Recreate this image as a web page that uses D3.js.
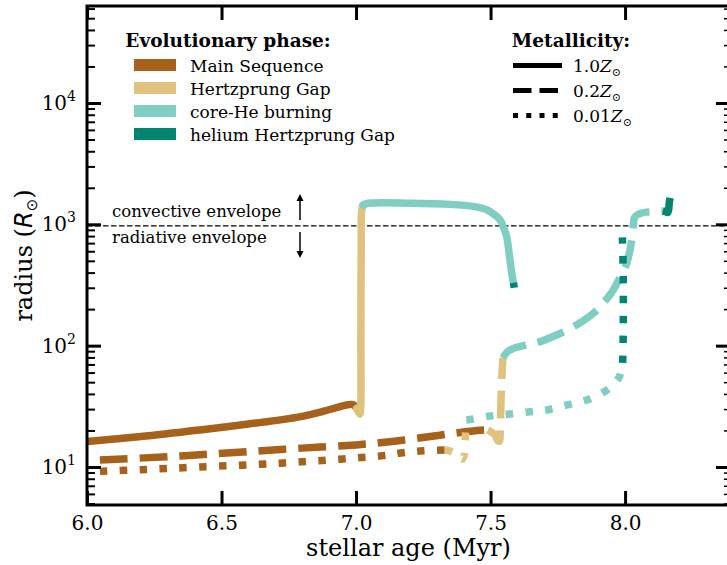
<!DOCTYPE html>
<html>
<head>
<meta charset="utf-8">
<script src="https://cdn.jsdelivr.net/npm/d3@7"></script>
<style>
body{margin:0;background:#fff;}
text{font-family:"DejaVu Serif";fill:#000;}
</style>
</head>
<body>
<svg id="chart" width="727" height="565"></svg>
<script>
// phase colours (BrBG)
var phaseNames = ['Main Sequence','Hertzprung Gap','core-He burning','helium Hertzprung Gap'];
var phaseColors = ['#a6611a','#dfc27d','#80cdc1','#018571'];
var metalLabels = ['1.0','0.2','0.01'];

// tracks: [age (Myr), radius (Rsun)]
// Z = 1.0 Zsun
var ms_10 = [[6.0,16.2],[6.2,17.8],[6.42,20.2],[6.6,22.6],[6.79,25.9],[6.88,28.8],[6.93,31.0],[6.97,32.6],[6.99,32.6],[7.003,30.5]];
var hg_10 = [[7.003,30.5],[7.009,28.2],[7.014,27.3],[7.017,30],[7.018,120],[7.019,600],[7.021,1300],[7.026,1440]];
var chb_10 = [[7.026,1440],[7.045,1490],[7.2,1495],[7.35,1460],[7.44,1400],[7.486,1320],[7.515,1200],[7.535,1090],[7.55,920],[7.56,790],[7.572,510],[7.58,380],[7.585,330]];
var hehg_10 = [[7.585,330],[7.588,300]];
// Z = 0.2 Zsun
var ms_02 = [[6.048,11.4],[6.25,12.0],[6.42,12.6],[6.6,13.4],[6.8,14.3],[7.0,15.2],[7.15,16.4],[7.29,18.0],[7.4,19.4],[7.45,20.0],[7.49,20.2]];
var hg_02 = [[7.49,20.2],[7.515,18.5],[7.527,16.5],[7.533,16.3],[7.536,20],[7.538,30],[7.541,50],[7.546,79]];
var chb_02 = [[7.546,79],[7.56,88],[7.585,95],[7.63,101],[7.684,108],[7.758,126],[7.808,143],[7.882,185],[7.93,240],[7.956,288],[7.985,380],[8.006,477],[8.025,743],[8.031,1000],[8.036,1150],[8.056,1230],[8.118,1280],[8.14,1290]];
var hehg_02 = [[8.14,1290],[8.152,1270],[8.158,1250],[8.162,1320],[8.164,1480],[8.167,1650]];
// Z = 0.01 Zsun
var ms_001 = [[6.048,9.2],[6.2,9.5],[6.42,10.0],[6.7,10.7],[6.94,11.6],[7.1,12.4],[7.175,13.1],[7.25,13.6],[7.33,13.8]];
var hg_001 = [[7.33,13.8],[7.36,13.3],[7.385,12.2],[7.395,11.6],[7.402,12.5],[7.405,16],[7.408,21],[7.41,24.4]];
var chb_001 = [[7.41,24.4],[7.424,24.6],[7.498,26.3],[7.572,27.3],[7.647,28.5],[7.709,29.5],[7.782,32.4],[7.857,35.6],[7.932,43],[7.965,50],[7.981,57],[7.991,72]];
var hehg_001 = [[7.991,72],[7.993,120],[7.993,400],[7.99,780]];

var xTicks = [6.0,6.5,7.0,7.5,8.0];
var yMajor = [10,100,1000,10000];
var envelopeR = 970;

var svg = d3.select('#chart');
var pLeft = 87, pRight = 730, pTop = 6, pBottom = 505;

var x = d3.scaleLinear().domain([6,8.39]).range([pLeft,pRight]);
var y = d3.scaleLog().domain([4.86,63000]).range([pBottom,pTop]);

svg.append('defs').append('clipPath').attr('id','plotclip')
  .append('rect').attr('x',pLeft).attr('y',pTop).attr('width',pRight-pLeft).attr('height',pBottom-pTop);

// minor ticks for log axis
var yMinor = [];
for(var e=0;e<5;e++){
  for(var m=2;m<10;m++){
    var v = m*Math.pow(10,e);
    if(v>y.domain()[0] && v<y.domain()[1]) yMinor.push(v);
  }
}

//dashed line between envelope types
svg.append('line').attr('x1',pLeft).attr('x2',pRight).attr('y1',y(envelopeR)).attr('y2',y(envelopeR))
  .attr('stroke','#000').attr('stroke-width',1.4).attr('stroke-dasharray','5.5,2.5');

svg.append('text').attr('x',112).attr('y',217).attr('font-size','16.5px').text('convective envelope');
svg.append('text').attr('x',112).attr('y',243).attr('font-size','16.5px').text('radiative envelope');

function arrow(x0,y0,y1){
  var dir = y1<y0 ? 1 : -1;
  svg.append('line').attr('x1',x0).attr('x2',x0).attr('y1',y0).attr('y2',y1+dir*5)
    .attr('stroke','#000').attr('stroke-width',1.5);
  svg.append('path').attr('d','M'+(x0-3.5)+','+(y1+dir*7)+'L'+x0+','+y1+'L'+(x0+3.5)+','+(y1+dir*7)+'Z')
    .attr('fill','#000');
}
arrow(300,220,194);
arrow(300,232,258);

// tracks
var line = d3.line().curve(d3.curveCatmullRom.alpha(0.5))
  .x(function(d){return x(d[0]);}).y(function(d){return y(d[1]);});
var plot = svg.append('g').attr('clip-path','url(#plotclip)');
var lw = 7.5;
var styles = [
  {dash:null, cap:'round'},
  {dash:(3.7*lw)+','+(1.6*lw), cap:'butt'},
  {dash:(1*lw)+','+(1.65*lw), cap:'butt'}
];
var tracks = [
  [ms_10,hg_10,chb_10,hehg_10],
  [ms_02,hg_02,chb_02,hehg_02],
  [ms_001,hg_001,chb_001,hehg_001]
];
for(var t=0;t<tracks.length;t++){
  for(var p=0;p<4;p++){
    var path = plot.append('path').datum(tracks[t][p]).attr('d',line)
      .attr('fill','none').attr('stroke',phaseColors[p]).attr('stroke-width',lw)
      .attr('stroke-linejoin','round').attr('stroke-linecap',(t==0 && p==3) ? 'butt' : styles[t].cap);
    if(styles[t].dash) path.attr('stroke-dasharray',styles[t].dash);
  }
}

// axes
function styleAxis(g,w){
  g.select('.domain').remove();
  g.selectAll('.tick line').attr('stroke','#000').attr('stroke-width',w);
}
var xb = svg.append('g').attr('transform','translate(0,'+pBottom+')')
  .call(d3.axisBottom(x).tickValues(xTicks).tickSize(-14).tickSizeOuter(0).tickPadding(11).tickFormat(d3.format('.1f')));
styleAxis(xb,3);
xb.selectAll('text').attr('font-size','20px').attr('font-family','DejaVu Serif');
var xt = svg.append('g').attr('transform','translate(0,'+pTop+')')
  .call(d3.axisTop(x).tickValues(xTicks).tickSize(-14).tickSizeOuter(0).tickFormat(''));
styleAxis(xt,3);

var yl = svg.append('g').attr('transform','translate('+pLeft+',0)')
  .call(d3.axisLeft(y).tickValues(yMajor).tickSize(-14).tickSizeOuter(0).tickFormat(''));
styleAxis(yl,3);
var ylm = svg.append('g').attr('transform','translate('+pLeft+',0)')
  .call(d3.axisLeft(y).tickValues(yMinor).tickSize(-8).tickSizeOuter(0).tickFormat(''));
styleAxis(ylm,2);
var yr = svg.append('g').attr('transform','translate('+pRight+',0)')
  .call(d3.axisRight(y).tickValues(yMajor).tickSize(-14).tickSizeOuter(0).tickFormat(''));
styleAxis(yr,3);
var yrm = svg.append('g').attr('transform','translate('+pRight+',0)')
  .call(d3.axisRight(y).tickValues(yMinor).tickSize(-6).tickSizeOuter(0).tickFormat(''));
styleAxis(yrm,1.5);

// y tick labels as 10^n
yMajor.forEach(function(v){
  var tx = svg.append('text').attr('x',76).attr('y',y(v)+7).attr('text-anchor','end').attr('font-size','20px');
  tx.append('tspan').text('10');
  tx.append('tspan').attr('font-size','14px').attr('dy',-9).text(Math.round(Math.log10(v)));
});

// frame
svg.append('rect').attr('x',pLeft).attr('y',pTop).attr('width',pRight-pLeft).attr('height',pBottom-pTop)
  .attr('fill','none').attr('stroke','#000').attr('stroke-width',3);

// axis labels
svg.append('text').attr('x',(pLeft+pRight)/2).attr('y',556).attr('text-anchor','middle')
  .attr('font-size','24px').text('stellar age (Myr)');
var ylab = svg.append('text').attr('transform','translate(32,'+((pTop+pBottom)/2)+') rotate(-90)')
  .attr('text-anchor','middle').attr('font-size','24px');
ylab.append('tspan').text('radius (');
ylab.append('tspan').attr('font-family','DejaVu Sans').attr('font-style','italic').text('R');
ylab.append('tspan').attr('font-family','DejaVu Sans').attr('font-size','15px').attr('dy',5).text('\u2299');
ylab.append('tspan').attr('dy',-5).text(')');

// legend: phases
svg.append('text').attr('x',228).attr('y',47).attr('text-anchor','middle').attr('font-size','18.5px')
  .attr('font-weight','bold').text('Evolutionary phase:');
phaseNames.forEach(function(n,i){
  var cy = 65+i*23;
  svg.append('rect').attr('x',134).attr('y',cy-6).attr('width',42).attr('height',12).attr('fill',phaseColors[i]);
  svg.append('text').attr('x',190).attr('y',cy+6.5).attr('font-size','17px').text(n);
});

// legend: metallicity
svg.append('text').attr('x',571).attr('y',47).attr('text-anchor','middle').attr('font-size','18.5px')
  .attr('font-weight','bold').text('Metallicity:');
var legDash = [null,'18.5,8','5,8.25'];
metalLabels.forEach(function(n,i){
  var cy = 65.5+i*25;
  var l = svg.append('line').attr('x1',513).attr('x2',562).attr('y1',cy).attr('y2',cy)
    .attr('stroke','#000').attr('stroke-width',5);
  if(legDash[i]) l.attr('stroke-dasharray',legDash[i]);
  var tx = svg.append('text').attr('x',573).attr('y',cy+6.5).attr('font-size','17px').attr('font-family','DejaVu Sans');
  tx.append('tspan').text(n);
  tx.append('tspan').attr('font-style','italic').text('Z');
  tx.append('tspan').attr('font-size','11px').attr('dy',4).text('\u2299');
});
</script>
</body>
</html>
